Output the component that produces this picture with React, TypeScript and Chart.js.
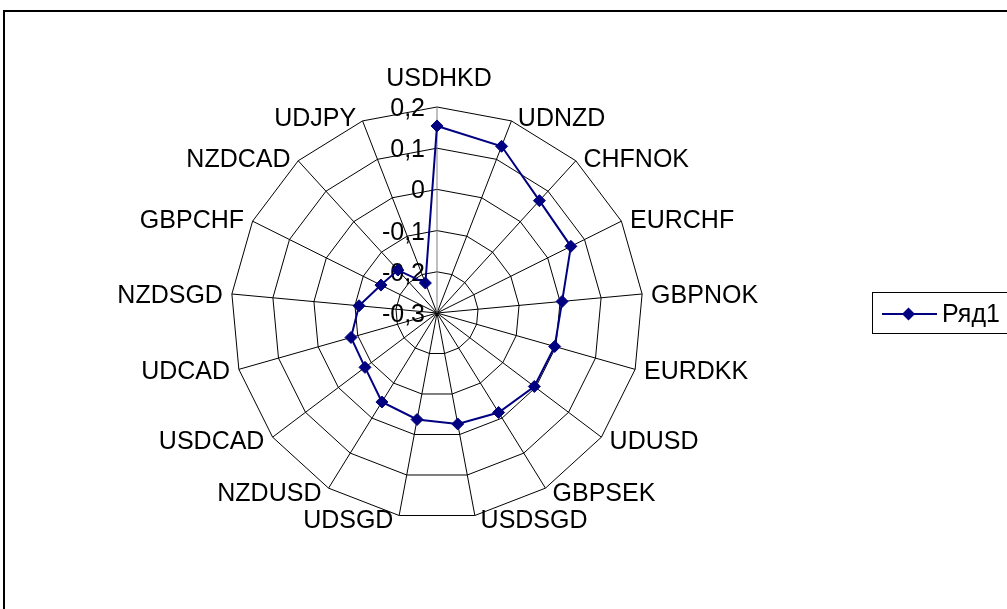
import React, { useEffect, useRef } from "react";
import { Chart, registerables } from "chart.js";

Chart.register(...registerables);

const CATEGORIES = [
  "USDHKD", "UDNZD", "CHFNOK", "EURCHF", "GBPNOK", "EURDKK", "UDUSD", "GBPSEK",
  "USDSGD", "UDSGD", "NZDUSD", "USDCAD", "UDCAD", "NZDSGD", "GBPCHF", "NZDCAD", "UDJPY",
];
const SERIES_LABEL = "Ряд1";
const VALUES = [
  0.154, 0.134, 0.069, 0.063, 0.005, -0.003, -0.004, -0.016,
  -0.026, -0.037, -0.046, -0.081, -0.083, -0.110, -0.148, -0.159, -0.222,
];
const TICK_LABELS = ["-0,3", "-0,2", "-0,1", "0", "0,1", "0,2"];
const SCALE_MIN = -0.3;
const SCALE_MAX = 0.2;
const SCALE_STEP = 0.1;

const FONT = '25px "Liberation Sans", Arial, sans-serif';
const NAVY = "#000080";

function drawDiamond(ctx: CanvasRenderingContext2D, x: number, y: number, r: number) {
  ctx.beginPath();
  ctx.moveTo(x - r, y);
  ctx.lineTo(x, y - r);
  ctx.lineTo(x + r, y);
  ctx.lineTo(x, y + r);
  ctx.closePath();
  ctx.fill();
}

const overlayPlugin = {
  id: "excelOverlay",
  beforeDatasetsDraw(chart: any) {
    const ctx: CanvasRenderingContext2D = chart.ctx;
    const scale = chart.scales.r;
    ctx.save();
    ctx.font = FONT;
    ctx.fillStyle = "#000";
    // tick labels
    ctx.textAlign = "right";
    ctx.textBaseline = "alphabetic";
    scale.ticks.forEach((t: any, i: number) => {
      const d = scale.getDistanceFromCenterForValue(t.value);
      const lab = TICK_LABELS[i] ?? "";
      ctx.fillText(lab, scale.xCenter - 12, scale.yCenter - d + 9);
    });
    // point labels
    CATEGORIES.forEach((lab, i) => {
      const p = scale.getPointPosition(i, scale.drawingArea);
      const a = scale.getIndexAngle(i);
      const s = Math.sin(a);
      const c = Math.cos(a);
      if (Math.abs(s) < 0.1) {
        ctx.textAlign = "center";
        if (c > 0) ctx.fillText(lab, p.x + 2, p.y - 21);
        else ctx.fillText(lab, p.x, p.y + 30);
      } else {
        const gap = 5 + 4 * Math.abs(s);
        ctx.textAlign = s > 0 ? "left" : "right";
        const x = p.x + (s > 0 ? gap : -gap);
        const y = p.y - 4 * c + 9;
        ctx.fillText(lab, x, y);
      }
    });
    ctx.restore();
  },
  afterDraw(chart: any) {
    const ctx: CanvasRenderingContext2D = chart.ctx;
    ctx.save();
    // chart area frame (left & top visible)
    ctx.strokeStyle = "#000";
    ctx.lineWidth = 2;
    ctx.beginPath();
    ctx.moveTo(4, chart.height + 5);
    ctx.lineTo(4, 11);
    ctx.lineTo(chart.width + 5, 11);
    ctx.stroke();
    // legend
    ctx.lineWidth = 1;
    ctx.strokeStyle = "#000";
    ctx.strokeRect(872.5, 292.5, 200, 41);
    ctx.strokeStyle = NAVY;
    ctx.lineWidth = 2;
    ctx.beginPath();
    ctx.moveTo(882, 314);
    ctx.lineTo(937, 314);
    ctx.stroke();
    ctx.fillStyle = NAVY;
    drawDiamond(ctx, 908.5, 314, 6.5);
    ctx.fillStyle = "#000";
    ctx.font = FONT;
    ctx.textAlign = "left";
    ctx.textBaseline = "alphabetic";
    ctx.fillText(SERIES_LABEL, 942, 322);
    ctx.restore();
  },
};

export default function App() {
  const ref = useRef<HTMLCanvasElement | null>(null);
  useEffect(() => {
    if (!ref.current) return;
    const chart = new Chart(ref.current, {
      type: "radar",
      data: {
        labels: CATEGORIES,
        datasets: [
          {
            label: SERIES_LABEL,
            data: VALUES,
            borderColor: NAVY,
            backgroundColor: NAVY,
            fill: false,
            borderWidth: 2,
            tension: 0,
            pointStyle: "rectRot",
            pointRadius: 6,
            pointBorderWidth: 1,
            pointBackgroundColor: NAVY,
            pointBorderColor: NAVY,
          },
        ],
      },
      options: {
        responsive: false,
        animation: false,
        events: [],
        layout: { padding: { left: 231, top: 107, right: 364, bottom: 90 } },
        plugins: { legend: { display: false }, tooltip: { enabled: false } },
        scales: {
          r: {
            min: SCALE_MIN,
            max: SCALE_MAX,
            beginAtZero: false,
            ticks: { display: false, stepSize: SCALE_STEP },
            pointLabels: { display: false },
            grid: { color: "#000", lineWidth: 1, circular: false },
            angleLines: {
              color: (c: any) => (c.index === 0 ? "#808080" : "#000"),
              lineWidth: 1,
            },
          },
        },
      },
      plugins: [overlayPlugin],
    });
    return () => chart.destroy();
  }, []);
  return (
    <canvas
      ref={ref}
      width={1007}
      height={609}
      style={{ position: "absolute", left: 0, top: 0, background: "#fff" }}
    />
  );
}
